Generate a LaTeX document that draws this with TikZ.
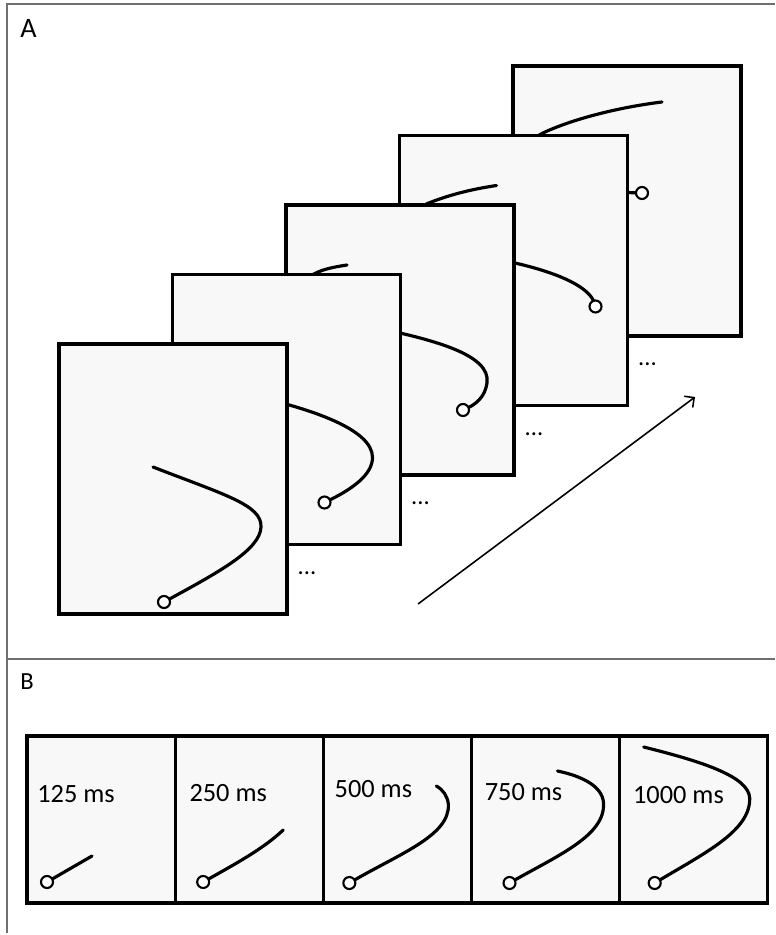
\documentclass[tikz,border=0pt]{standalone}
\usepackage{fontspec}
\setmainfont{Carlito}
\usetikzlibrary{positioning, arrows.meta}
\definecolor{screengray}{RGB}{248,248,248}
\definecolor{bordergray}{RGB}{112,112,112}

\begin{document}
\begin{tikzpicture}[
    x=0.02cm, y=-0.02cm,
    node distance=0pt,
    screen/.style={rectangle, draw=black, fill=screengray, line width=1.8pt, inner sep=0pt, outer sep=0pt, minimum width=4.56cm, minimum height=5.4cm, anchor=north west},
    smallscreen/.style={screen, minimum width=2.964cm, minimum height=3.34cm},
    trail/.style={draw, line width=1.8pt, line cap=round},
    pen/.style={draw, fill=white, line width=1.2pt},
    border/.style={draw=bordergray, line width=1pt},
    more/.style={font=\fontsize{14}{16}\selectfont, inner sep=0pt},
    mslabel/.style={font=\fontsize{15}{18}\selectfont, inner sep=0pt, anchor=base west},
    line/.style={draw, line width=0.9pt, -{Straight Barb[length=4pt, width=8pt]}}
    ]
    \useasboundingbox (0,0) rectangle (775,935);

    % Panel borders
    \draw [border] (775,4) -- (7,4) -- (7,933);
    \draw [border] (7,659) -- (775,659);
    \node (pa) [anchor=base west, inner sep=0pt, font=\fontsize{16}{18}\selectfont] at (20,38) {A};
    \node (pb) [anchor=base west, inner sep=0pt, font=\fontsize{14}{16}\selectfont] at (20,689) {B};

    % Panel A, back to front
    \node (a5) [screen] at (513,66) {};
    \begin{scope}[shift={(a5.north west)}]
        \draw [trail] (149,36) .. controls (100,42) and (55,55) .. (30,67) .. controls (0,82) and (10,112) .. (70,122) .. controls (95,125) and (115,127) .. (129,127);
        \draw [pen] (129,127) circle [radius=0.12cm];
    \end{scope}

    \node (a4) [screen] at (399.5,135.5) {};
    \begin{scope}[shift={(a4.north west)}]
        \draw [trail] (97,50) .. controls (70,54) and (48,60) .. (28,68) .. controls (0,82) and (10,112) .. (70,119) .. controls (130,128) and (192,145) .. (196,171);
        \draw [pen] (196,171) circle [radius=0.12cm];
    \end{scope}

    \node (a3) [screen] at (286,205) {};
    \begin{scope}[shift={(a3.north west)}]
        \draw [trail] (61,60) .. controls (48,62) and (38,64) .. (30,68) .. controls (0,82) and (10,112) .. (70,119) .. controls (150,134) and (205,150) .. (201,178) .. controls (199,192) and (190,200) .. (177,205);
        \draw [pen] (177,205) circle [radius=0.12cm];
    \end{scope}

    \node (a2) [screen] at (172.5,274.5) {};
    \begin{scope}[shift={(a2.north west)}]
        \draw [trail] (70,119) .. controls (140,134) and (200,155) .. (200,183) .. controls (200,200) and (180,215) .. (152,228);
        \draw [pen] (152,228) circle [radius=0.12cm];
    \end{scope}

    \node (a1) [screen] at (59,344) {};
    \begin{scope}[shift={(a1.north west)}]
        \draw [trail] (94,123) .. controls (166,151) and (203,161) .. (202,183) .. controls (201,206) and (160,228) .. (105,258);
        \draw [pen] (105,258) circle [radius=0.12cm];
    \end{scope}

    % Dots beside the frames
    \node (d1) [more] at ([shift={(20,-41)}]a1.south east) {...};
    \node (d2) [more] at ([shift={(20,-41)}]a2.south east) {...};
    \node (d3) [more] at ([shift={(20,-41)}]a3.south east) {...};
    \node (d4) [more] at ([shift={(20,-41)}]a4.south east) {...};

    % Time arrow
    \coordinate (t0) at (418,604);
    \coordinate (t1) at (695,397);
    \draw [line] (t0) -- (t1);

    % Panel B
    \node (b1) [smallscreen] at (27,736) {};
    \node (b2) [smallscreen, right=of b1] {};
    \node (b3) [smallscreen, right=of b2] {};
    \node (b4) [smallscreen, right=of b3] {};
    \node (b5) [smallscreen, right=of b4] {};

    \begin{scope}[shift={(b1.north west)}]
        \draw [trail] (20,146) -- (65,120);
        \draw [pen] (20,146) circle [radius=0.12cm];
        \node (m1) [mslabel] at (10,66) {125 ms};
    \end{scope}
    \begin{scope}[shift={(b2.north west)}]
        \draw [trail] (28,146) .. controls (60,128) and (88,113) .. (108,94);
        \draw [pen] (28,146) circle [radius=0.12cm];
        \node (m2) [mslabel] at (14,65) {250 ms};
    \end{scope}
    \begin{scope}[shift={(b3.north west)}]
        \draw [trail] (26,147) .. controls (75,118) and (127,100) .. (125,68) .. controls (124,60) and (120,54) .. (113,50);
        \draw [pen] (26,147) circle [radius=0.12cm];
        \node (m3) [mslabel] at (11,61) {500 ms};
    \end{scope}
    \begin{scope}[shift={(b4.north west)}]
        \draw [trail] (38,147) .. controls (85,120) and (134,100) .. (132,67) .. controls (131,50) and (110,40) .. (86,35);
        \draw [pen] (38,147) circle [radius=0.12cm];
        \node (m4) [mslabel] at (13,64) {750 ms};
    \end{scope}
    \begin{scope}[shift={(b5.north west)}]
        \draw [trail] (35,147) .. controls (85,117) and (131,95) .. (130,62) .. controls (129,40) and (80,25) .. (24,11);
        \draw [pen] (35,147) circle [radius=0.12cm];
        \node (m5) [mslabel] at (13,67) {1000 ms};
    \end{scope}
\end{tikzpicture}
\end{document}
